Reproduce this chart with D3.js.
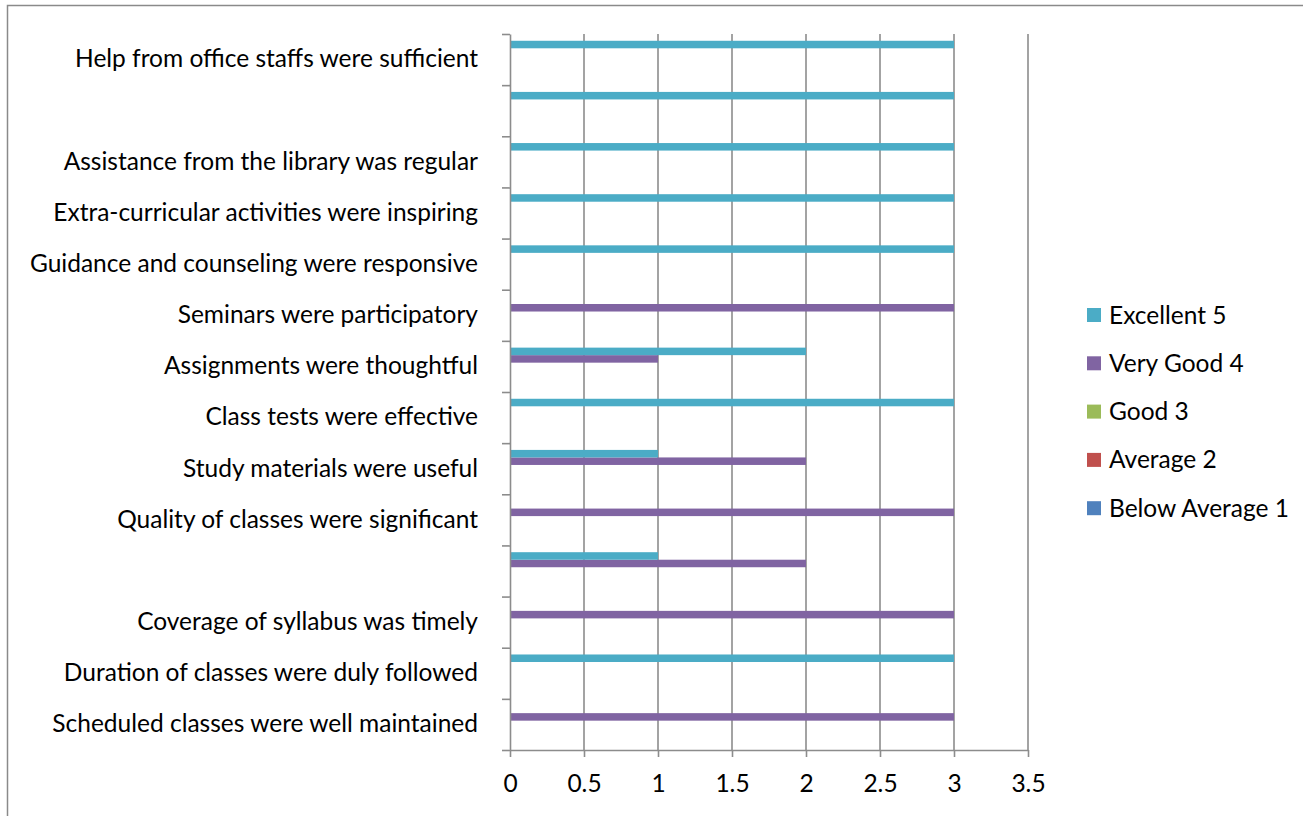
<!DOCTYPE html>
<html>
<head>
<meta charset="utf-8">
<script src="https://cdn.jsdelivr.net/npm/d3@7"></script>
<style>
  html, body { margin: 0; padding: 0; background: #fff; }
  svg { display: block; }
  text { font-family: Lato, "Open Sans", sans-serif; fill: #000; }
</style>
</head>
<body>
<svg id="chart" width="1303" height="816"></svg>
<script>
// Categories listed bottom-to-top (as in the source spreadsheet order)
const categories = [
  "Scheduled classes were well maintained",
  "Duration of classes were duly followed",
  "Coverage of syllabus was timely",
  "",
  "Quality of classes were significant",
  "Study materials were useful",
  "Class tests were effective",
  "Assignments were thoughtful",
  "Seminars were participatory",
  "Guidance and counseling were responsive",
  "Extra-curricular activities were inspiring",
  "Assistance from the library was regular",
  "",
  "Help from office staffs were sufficient"
];
const belowAverage1 = [0,0,0,0,0,0,0,0,0,0,0,0,0,0];
const average2      = [0,0,0,0,0,0,0,0,0,0,0,0,0,0];
const good3         = [0,0,0,0,0,0,0,0,0,0,0,0,0,0];
const veryGood4     = [3,0,3,2,3,2,0,1,3,0,0,0,0,0];
const excellent5    = [0,3,0,1,0,1,3,2,0,3,3,3,3,3];
const seriesNames   = ["Below Average 1","Average 2","Good 3","Very Good 4","Excellent 5"];
const seriesColors  = ["#4F81BD","#C0504D","#9BBB59","#8064A2","#4BACC6"];
const xTicks        = [0,0.5,1,1.5,2,2.5,3,3.5];

const seriesValues = [belowAverage1, average2, good3, veryGood4, excellent5];
const series = seriesNames.map((n,i)=>({name:n, color:seriesColors[i], values:seriesValues[i]}));

const FS = "24.5px";
const svg = d3.select("#chart");
const plot = {left:510, right:1028, top:34, bottom:750};

// outer chart border
svg.append("rect").attr("x",7.5).attr("y",5.5).attr("width",1320).attr("height",830)
  .attr("fill","none").attr("stroke","#8a8a8a").attr("stroke-width",1.5);

const x = d3.scaleLinear().domain([0,3.5]).range([plot.left, plot.right]);
const catIdx = categories.map((c,i)=>i);
const y = d3.scaleBand().domain(catIdx.slice().reverse()).range([plot.top, plot.bottom]).padding(0);
// inner band: series order top-to-bottom within a group (last series on top)
const yInner = d3.scaleBand().domain(d3.range(series.length).reverse())
  .range([0, y.bandwidth()]).paddingInner(0).paddingOuter(0.9);

const gridColor = "#8c8c8c";

// vertical gridlines
svg.append("g").selectAll("line").data(xTicks.filter(t=>t>0)).join("line")
  .attr("x1",d=>x(d)).attr("x2",d=>x(d))
  .attr("y1",plot.top).attr("y2",plot.bottom)
  .attr("stroke",gridColor).attr("stroke-width",1.6);

// bars
series.forEach((s,si)=>{
  svg.append("g").selectAll("rect").data(s.values.map((v,i)=>({v,i}))).join("rect")
    .filter(d=>d.v>0)
    .attr("x",x(0))
    .attr("y",d=>y(d.i)+yInner(si))
    .attr("width",d=>x(d.v)-x(0))
    .attr("height",yInner.bandwidth())
    .attr("fill",s.color);
});

// x axis
const xAxis = svg.append("g").attr("transform",`translate(0,${plot.bottom})`)
  .call(d3.axisBottom(x).tickValues(xTicks).tickFormat(d3.format("")).tickSizeInner(7).tickSizeOuter(0).tickPadding(18));
xAxis.select(".domain").attr("stroke",gridColor).attr("stroke-width",1.6);
xAxis.selectAll(".tick line").attr("stroke",gridColor).attr("stroke-width",1.6);
xAxis.selectAll("text").style("font-size",FS).style("font-family","Lato, sans-serif").attr("fill","#000");

// y axis line + ticks at category boundaries
const yLin = d3.scaleLinear().domain([0,categories.length]).range([plot.bottom, plot.top]);
const yAxis = svg.append("g").attr("transform",`translate(${plot.left},0)`)
  .call(d3.axisLeft(yLin).tickValues(d3.range(categories.length+1)).tickFormat("").tickSizeInner(8).tickSizeOuter(0));
yAxis.select(".domain").attr("stroke",gridColor).attr("stroke-width",1.6);
yAxis.selectAll(".tick line").attr("stroke",gridColor).attr("stroke-width",1.6);

// category labels
const labG = svg.append("g").attr("transform",`translate(${plot.left},0)`)
  .call(d3.axisLeft(y).tickFormat(i=>categories[i]).tickSize(0).tickPadding(32));
labG.select(".domain").remove();
labG.selectAll("text").style("font-size",FS).style("font-family","Lato, sans-serif").attr("fill","#000");

// legend (Excellent at top)
const legendItems = series.slice().reverse();
const lg = svg.append("g").selectAll("g").data(legendItems).join("g")
  .attr("transform",(d,i)=>`translate(1087,${315 + i*48.3})`);
lg.append("rect").attr("x",0).attr("y",-7).attr("width",14).attr("height",14).attr("fill",d=>d.color);
lg.append("text").attr("x",22).attr("y",0).attr("dy","0.35em")
  .style("font-size",FS).text(d=>d.name);
</script>
</body>
</html>
